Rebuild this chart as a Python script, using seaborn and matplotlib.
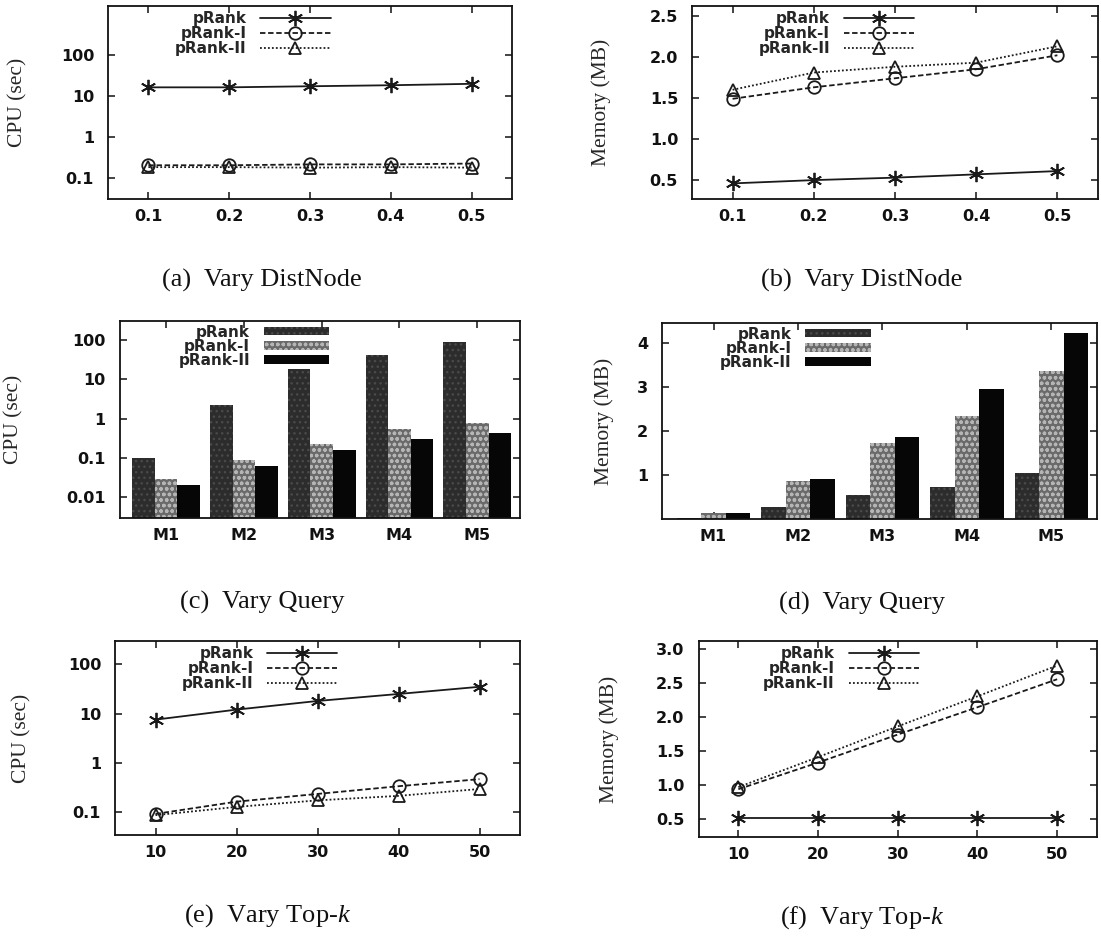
import matplotlib
matplotlib.use("Agg")
import matplotlib.pyplot as plt
from matplotlib.ticker import NullLocator
from matplotlib.font_manager import FontProperties
import seaborn as sns
import pandas as pd

# ---------------- data ----------------
methods = ["pRank", "pRank-I", "pRank-II"]

dist = [0.1, 0.2, 0.3, 0.4, 0.5]
cpu_dist_prank = [16, 16, 17, 18, 19.5]
cpu_dist_prank1 = [0.20, 0.20, 0.21, 0.21, 0.22]
cpu_dist_prank2 = [0.18, 0.18, 0.175, 0.18, 0.175]
mem_dist_prank = [0.46, 0.50, 0.53, 0.57, 0.61]
mem_dist_prank1 = [1.49, 1.63, 1.74, 1.85, 2.02]
mem_dist_prank2 = [1.60, 1.81, 1.88, 1.93, 2.13]

queries = ["M1", "M2", "M3", "M4", "M5"]
cpu_q_prank = [0.1, 2.2, 18, 42, 86]
cpu_q_prank1 = [0.03, 0.087, 0.23, 0.55, 0.78]
cpu_q_prank2 = [0.021, 0.062, 0.16, 0.31, 0.42]
mem_q_prank = [0.03, 0.27, 0.54, 0.73, 1.04]
mem_q_prank1 = [0.13, 0.86, 1.73, 2.33, 3.35]
mem_q_prank2 = [0.14, 0.90, 1.87, 2.96, 4.22]

topk = [10, 20, 30, 40, 50]
cpu_k_prank = [7.5, 12, 18, 25, 35]
cpu_k_prank1 = [0.09, 0.16, 0.23, 0.33, 0.46]
cpu_k_prank2 = [0.085, 0.125, 0.17, 0.21, 0.29]
mem_k_prank = [0.52, 0.52, 0.52, 0.52, 0.52]
mem_k_prank1 = [0.94, 1.33, 1.74, 2.14, 2.55]
mem_k_prank2 = [0.97, 1.41, 1.86, 2.30, 2.75]

captions = ["(a)  Vary DistNode", "(b)  Vary DistNode",
            "(c)  Vary Query", "(d)  Vary Query",
            "(e)  Vary Top-$k$", "(f)  Vary Top-$k$"]

# ---------------- style ----------------
sns.set_style("ticks")
plt.rcParams.update({
    "font.family": ["DejaVu Sans"],
    "mathtext.fontset": "custom",
    "mathtext.rm": "Liberation Serif",
    "mathtext.it": "Liberation Serif:italic",
    "axes.edgecolor": "#111111",
    "axes.linewidth": 1.3,
    "hatch.linewidth": 1.0,
})

W, H = 1101, 941
fig = plt.figure(figsize=(W / 100, H / 100), dpi=100)

def box(x0, x1, y0, y1):
    return [x0 / W, 1 - y1 / H, (x1 - x0) / W, (y1 - y0) / H]

axes_px = [
    (108, 512, 6, 199),
    (692, 1098, 6, 199),
    (119.5, 520, 321, 518),
    (662, 1097, 323, 519),
    (115, 520, 641, 835),
    (698.5, 1097, 641, 837),
]
axs = [fig.add_axes(box(*p)) for p in axes_px]

tick_font = dict(family="DejaVu Sans", weight="bold", size=11.5)
leg_font = dict(family="DejaVu Sans", weight="bold", size=11)
lab_font = dict(family="Liberation Serif", size=15.5)
cap_font = dict(family=["Liberation Serif"], size=19)

LC = "#1a1a1a"
line_styles = [
    dict(marker=(6, 2, 0), linestyle="-", markersize=11),
    dict(marker="o", linestyle=(0, (3, 1.5)), markersize=9),
    dict(marker="^", linestyle=(0, (1, 1.2)), markersize=8.5),
]

LEG_Y = 0.972

def line_panel(ax, xs, series, legend_x):
    for name, ys, st in zip(methods, series, line_styles):
        sns.lineplot(x=xs, y=ys, ax=ax, color=LC, linewidth=1.3,
                     marker=st["marker"], linestyle=st["linestyle"],
                     markersize=st["markersize"], markerfacecolor="none",
                     markeredgecolor=LC, markeredgewidth=1.3,
                     label=name, legend=False)
    h, l = ax.get_legend_handles_labels()
    ax.legend(h, l, loc="upper right", bbox_to_anchor=(legend_x, LEG_Y),
              markerfirst=False, frameon=False, handlelength=4.6,
              handletextpad=0.9, labelspacing=0.0, borderpad=0,
              borderaxespad=0, numpoints=1, prop=leg_font)

bar_faces = ["#2c2c2c", "#6a6a6a", "#060606"]
bar_hatch = ["...", "ooo", None]
bar_hcol = ["#4a4a4a", "#b5b5b5", "#060606"]

def bar_panel(ax, series, legend_x):
    df = pd.DataFrame({
        "query": queries * 3,
        "value": sum(series, []),
        "method": [m for m in methods for _ in queries],
    })
    sns.barplot(data=df, x="query", y="value", hue="method",
                hue_order=methods, order=queries, palette=bar_faces,
                width=0.87, gap=0, errorbar=None, ax=ax, legend=False,
                linewidth=0, saturation=1)
    for cont, hatch, hc in zip(ax.containers, bar_hatch, bar_hcol):
        for p in cont.patches:
            p.set_edgecolor(hc)
            p.set_linewidth(0)
            if hatch:
                p.set_hatch(hatch)
    handles = [c.patches[0] for c in ax.containers]
    ax.legend(handles, methods, loc="upper right",
              bbox_to_anchor=(legend_x, LEG_Y + 0.01), markerfirst=False,
              frameon=False, handlelength=4.3, handleheight=0.5,
              handletextpad=0.9, labelspacing=-0.05, borderpad=0,
              borderaxespad=0, prop=leg_font)
    ax.set_xlim(-0.6, 4.55)

def finish(ax, yticks, ylabels, ylabel, label_x, xticks, xlabels):
    ax.set_yticks(yticks)
    ax.set_yticklabels(ylabels, fontdict=tick_font)
    ax.set_xticks(xticks)
    ax.set_xticklabels(xlabels, fontdict=tick_font)
    ax.yaxis.set_minor_locator(NullLocator())
    ax.xaxis.set_minor_locator(NullLocator())
    ax.tick_params(direction="in", top=True, right=True, length=5,
                   width=1.1, color="#111111", labelcolor="#111111")
    ax.tick_params(axis="y", pad=10)
    ax.tick_params(axis="x", pad=7)
    ax.set_xlabel("")
    ax.set_ylabel(ylabel, fontdict=lab_font)
    ax.yaxis.set_label_coords(label_x, 0.5)
    for s in ax.spines.values():
        s.set_visible(True)

# (a)
ax = axs[0]
line_panel(ax, dist, [cpu_dist_prank, cpu_dist_prank1, cpu_dist_prank2], 0.551)
ax.set_yscale("log")
ax.set_ylim(0.03, 1550)
ax.set_xlim(0.05, 0.55)
finish(ax, [0.1, 1, 10, 100], ["0.1", "1", "10", "100"], "CPU (sec)", -0.2,
       dist, ["0.1", "0.2", "0.3", "0.4", "0.5"])

# (b)
ax = axs[1]
line_panel(ax, dist, [mem_dist_prank, mem_dist_prank1, mem_dist_prank2], 0.547)
ax.set_ylim(0.27, 2.62)
ax.set_xlim(0.05, 0.55)
finish(ax, [0.5, 1.0, 1.5, 2.0, 2.5], ["0.5", "1.0", "1.5", "2.0", "2.5"],
       "Memory (MB)", -0.2, dist, ["0.1", "0.2", "0.3", "0.4", "0.5"])

# (c)
ax = axs[2]
bar_panel(ax, [cpu_q_prank, cpu_q_prank1, cpu_q_prank2], 0.524)
ax.set_yscale("log")
ax.set_ylim(0.003, 300)
finish(ax, [0.01, 0.1, 1, 10, 100], ["0.01", "0.1", "1", "10", "100"],
       "CPU (sec)", -0.24, list(range(5)), queries)

# (d)
ax = axs[3]
bar_panel(ax, [mem_q_prank, mem_q_prank1, mem_q_prank2], 0.48)
ax.set_ylim(0, 4.45)
ax.set_xlim(-0.61, 4.54)
finish(ax, [1, 2, 3, 4], ["1", "2", "3", "4"], "Memory (MB)", -0.11,
       list(range(5)), queries)

# (e)
ax = axs[4]
line_panel(ax, topk, [cpu_k_prank, cpu_k_prank1, cpu_k_prank2], 0.549)
ax.set_yscale("log")
ax.set_ylim(0.0335, 300)
ax.set_xlim(5, 55)
finish(ax, [0.1, 1, 10, 100], ["0.1", "1", "10", "100"], "CPU (sec)", -0.205,
       topk, [str(v) for v in topk])

# (f)
ax = axs[5]
line_panel(ax, topk, [mem_k_prank, mem_k_prank1, mem_k_prank2], 0.553)
ax.set_ylim(0.24, 3.11)
ax.set_xlim(5, 55)
finish(ax, [0.5, 1.0, 1.5, 2.0, 2.5, 3.0],
       ["0.5", "1.0", "1.5", "2.0", "2.5", "3.0"], "Memory (MB)", -0.2,
       topk, [str(v) for v in topk])

# captions
cap_pos = [(262, 280), (862, 280), (262, 602), (862, 603), (268, 916), (862, 918)]
for (cx, cy), txt in zip(cap_pos, captions):
    fig.text(cx / W, 1 - cy / H, txt, ha="center", va="center",
             color="#111111", **cap_font)

fig.savefig("out.png", dpi=100, facecolor="white")
